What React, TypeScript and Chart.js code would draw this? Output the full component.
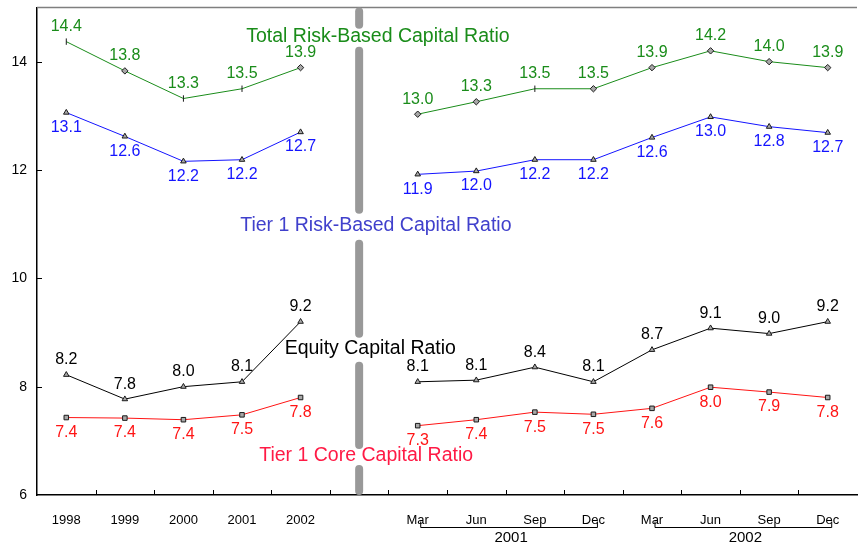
import React, { useEffect, useRef } from 'react';
import { Chart, registerables } from 'chart.js';

Chart.register(...registerables);

const FONT = '"Liberation Sans", Arial, sans-serif';

// ---------- data ----------
const categories = ['1998', '1999', '2000', '2001', '2002', '', 'Mar', 'Jun', 'Sep', 'Dec', 'Mar', 'Jun', 'Sep', 'Dec'];
const yearGroups = [
  { label: '2001', from: 6, to: 9 },
  { label: '2002', from: 10, to: 13 },
];
const separatorIndex = 5;
const yTicks = [6, 8, 10, 12, 14];

const totalRiskBased = [14.37, 13.83, 13.32, 13.5, 13.89, null, 13.03, 13.26, 13.5, 13.5, 13.89, 14.2, 14.0, 13.89];
const tier1RiskBased = [13.06, 12.62, 12.16, 12.19, 12.7, null, 11.92, 11.98, 12.19, 12.19, 12.6, 12.98, 12.8, 12.69];
const equityCapital = [8.22, 7.77, 8.0, 8.09, 9.2, null, 8.09, 8.12, 8.36, 8.09, 8.68, 9.08, 8.98, 9.2];
const tier1Core = [7.43, 7.42, 7.39, 7.48, 7.8, null, 7.28, 7.39, 7.53, 7.49, 7.6, 7.99, 7.9, 7.8];

const totalMarkers = ['line', 'rectRot', 'line', 'line', 'rectRot', 'rectRot', 'rectRot', 'rectRot', 'line', 'rectRot', 'rectRot', 'rectRot', 'rectRot', 'rectRot'];

const seriesNames = [
  'Total Risk-Based Capital Ratio',
  'Tier 1 Risk-Based Capital Ratio',
  'Equity Capital Ratio',
  'Tier 1 Core Capital Ratio',
];

// series title annotations (category index, value)
const titleSpots = [
  { x: 5.32, y: 14.46, color: '#1a8c1a', gap: 9 },
  { x: 5.285, y: 10.97, color: '#4040cc', gap: 13 },
  { x: 5.19, y: 8.7, color: '#000000', gap: 12 },
  { x: 5.12, y: 6.72, color: '#ff1a45', gap: 8 },
];

const labelPlacement = ['above', 'below', 'above', 'below'];
const labelColors = ['#1a8c1a', '#1414ff', '#000000', '#ff1414'];

const overlayPlugin = {
  id: 'overlay',
  beforeDatasetsDraw(chart: any) {
    const { ctx, chartArea, scales } = chart;
    const x = scales.x;
    const y = scales.y;
    ctx.save();
    // top border
    ctx.strokeStyle = '#7f7f7f';
    ctx.lineWidth = 1.5;
    ctx.beginPath();
    ctx.moveTo(chartArea.left, chartArea.top);
    ctx.lineTo(chartArea.right, chartArea.top);
    ctx.stroke();

    // separator (dashed at title positions)
    const sx = x.getPixelForValue(separatorIndex);
    const cap = 4;
    const gaps = titleSpots
      .map((t) => ({ c: y.getPixelForValue(t.y) + 1, g: t.gap }))
      .sort((a, b) => a.c - b.c);
    const segs: [number, number][] = [];
    let start = chartArea.top + cap;
    gaps.forEach((g) => {
      segs.push([start, g.c - g.g - cap]);
      start = g.c + g.g + cap;
    });
    segs.push([start, chartArea.bottom - cap]);
    ctx.strokeStyle = '#999999';
    ctx.lineWidth = 8;
    ctx.lineCap = 'round';
    segs.forEach(([a, b]) => {
      if (b > a) {
        ctx.beginPath();
        ctx.moveTo(sx, a);
        ctx.lineTo(sx, b);
        ctx.stroke();
      }
    });
    ctx.lineCap = 'butt';

    // inner tick marks
    ctx.strokeStyle = '#000';
    ctx.lineWidth = 1;
    for (let k = 1; k < categories.length; k++) {
      const px = Math.round(x.getPixelForValue(k - 0.5)) + 0.5;
      ctx.beginPath();
      ctx.moveTo(px, chartArea.bottom);
      ctx.lineTo(px, chartArea.bottom - 5);
      ctx.stroke();
    }
    yTicks.forEach((v) => {
      if (v === yTicks[0]) return;
      const py = Math.round(y.getPixelForValue(v)) + 0.5;
      ctx.beginPath();
      ctx.moveTo(chartArea.left, py);
      ctx.lineTo(chartArea.left + 5, py);
      ctx.stroke();
    });

    // year brackets
    ctx.font = `15px ${FONT}`;
    ctx.fillStyle = '#000';
    ctx.textAlign = 'center';
    ctx.textBaseline = 'middle';
    yearGroups.forEach((g) => {
      const a = x.getPixelForValue(g.from) + 3;
      const b = x.getPixelForValue(g.to) + 4;
      const by = chartArea.bottom + 32.5;
      ctx.beginPath();
      ctx.moveTo(a, by - 6);
      ctx.lineTo(a, by);
      ctx.lineTo(b, by);
      ctx.lineTo(b, by - 6);
      ctx.stroke();
      ctx.fillText(g.label, (a + b) / 2 + 2, chartArea.bottom + 43);
    });
    ctx.restore();
  },
  afterDatasetsDraw(chart: any) {
    const { ctx, scales } = chart;
    const x = scales.x;
    const y = scales.y;
    ctx.save();
    ctx.textAlign = 'center';
    ctx.textBaseline = 'middle';
    ctx.font = `16px ${FONT}`;
    chart.data.datasets.forEach((ds: any, di: number) => {
      const meta = chart.getDatasetMeta(di);
      ctx.fillStyle = labelColors[di];
      meta.data.forEach((pt: any, i: number) => {
        const v = ds.data[i];
        if (v === null || v === undefined) return;
        const off = labelPlacement[di] === 'above' ? -15 : 15;
        ctx.fillText(v.toFixed(1), pt.x, pt.y + off);
      });
    });
    // series titles
    ctx.font = `19.5px ${FONT}`;
    titleSpots.forEach((t, i) => {
      ctx.fillStyle = t.color;
      ctx.fillText(seriesNames[i], x.getPixelForValue(t.x), y.getPixelForValue(t.y));
    });
    ctx.restore();
  },
};

function makeDataset(label: string, data: (number | null)[], color: string, style: any, rotation: any) {
  return {
    label,
    data,
    borderColor: color,
    borderWidth: 1,
    pointStyle: style,
    pointRotation: rotation,
    pointRadius: 3.2,
    pointBackgroundColor: '#a8a8a8',
    pointBorderColor: '#1a1a1a',
    pointBorderWidth: 1,
    spanGaps: false,
    tension: 0,
    fill: false,
  };
}

export default function App() {
  const canvasRef = useRef<HTMLCanvasElement | null>(null);

  useEffect(() => {
    document.body.style.margin = '0';
    const canvas = canvasRef.current;
    if (!canvas) return;
    const chart = new Chart(canvas, {
      type: 'line',
      data: {
        labels: categories,
        datasets: [
          makeDataset(seriesNames[0], totalRiskBased, '#1a8c1a', totalMarkers, totalMarkers.map((m) => (m === 'line' ? 90 : 0))),
          makeDataset(seriesNames[1], tier1RiskBased, '#1414ff', 'triangle', 0),
          makeDataset(seriesNames[2], equityCapital, '#000000', 'triangle', 0),
          makeDataset(seriesNames[3], tier1Core, '#ff1414', 'rect', 0),
        ],
      },
      options: {
        animation: false,
        responsive: false,
        maintainAspectRatio: false,
        layout: { padding: { top: 7.5, left: 0, right: 0, bottom: 0 } },
        plugins: { legend: { display: false }, tooltip: { enabled: false } },
        scales: {
          x: {
            type: 'category',
            offset: true,
            grid: { display: false, drawTicks: false },
            border: { display: true, color: '#000', width: 1.5 },
            ticks: { color: '#000', font: { family: FONT, size: 13 }, padding: 18, autoSkip: false, maxRotation: 0 },
            afterFit: (s: any) => {
              s.height = 53;
              s.paddingLeft = 0;
              s.paddingRight = 0;
            },
          },
          y: {
            min: 6,
            max: 15,
            grid: { display: false, drawTicks: false },
            border: { display: true, color: '#000', width: 1.5 },
            ticks: { color: '#000', font: { family: FONT, size: 14 }, padding: 10 },
            afterBuildTicks: (s: any) => {
              s.ticks = yTicks.map((v) => ({ value: v }));
            },
            afterFit: (s: any) => {
              s.width = 37;
              s.paddingTop = 0;
              s.paddingBottom = 0;
            },
          },
        },
      } as any,
      plugins: [overlayPlugin],
    });
    return () => chart.destroy();
  }, []);

  return (
    <div style={{ width: 859, height: 548, overflow: 'hidden' }}>
      <canvas ref={canvasRef} width={862} height={548} style={{ display: 'block', width: 862, height: 548 }} />
    </div>
  );
}
